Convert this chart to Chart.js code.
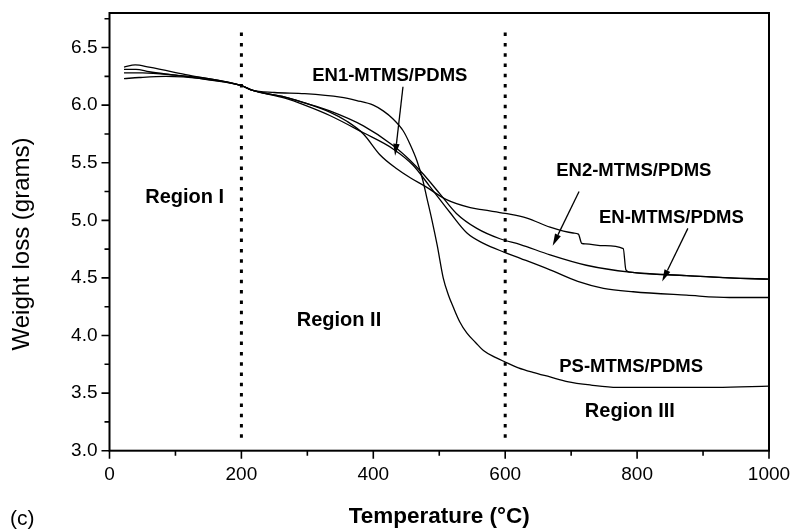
<!DOCTYPE html>
<html>
<head>
<meta charset="utf-8">
<script src="https://cdn.jsdelivr.net/npm/chart.js@4"></script>
<style>
  html, body { margin: 0; background: #fff; }
</style>
</head>
<body>
<canvas id="myChart" width="792" height="530"></canvas>
<script>
// temperatures (°C) and weights (g)
var psTemp = [22, 40, 60, 100, 150, 200, 216, 250, 296, 350, 375, 400, 415, 430, 445, 455, 466, 475, 481, 489, 497, 506, 514, 521, 531, 542, 555, 567, 585, 600, 620, 642, 668, 694, 730, 770, 850, 920, 1000];
var psWeight = [6.31, 6.31, 6.29, 6.26, 6.22, 6.17, 6.13, 6.11, 6.10, 6.07, 6.04, 6.00, 5.95, 5.88, 5.78, 5.67, 5.52, 5.35, 5.20, 5.00, 4.78, 4.50, 4.35, 4.25, 4.12, 4.02, 3.94, 3.87, 3.81, 3.77, 3.72, 3.68, 3.64, 3.60, 3.57, 3.55, 3.55, 3.55, 3.56];

var en2Temp = [22, 50, 100, 150, 200, 216, 266, 296, 334, 360, 385, 410, 435, 456, 480, 511, 547, 567, 600, 633, 668, 703, 711, 716, 722, 750, 779, 783, 789, 830, 875, 940, 1000];
var en2Weight = [6.28, 6.28, 6.26, 6.23, 6.17, 6.13, 6.07, 6.02, 5.94, 5.86, 5.75, 5.57, 5.45, 5.37, 5.29, 5.18, 5.11, 5.09, 5.06, 5.02, 4.94, 4.89, 4.88, 4.80, 4.795, 4.78, 4.755, 4.57, 4.55, 4.53, 4.52, 4.50, 4.49];

var enTemp = [22, 39, 60, 120, 200, 216, 266, 296, 334, 385, 430, 456, 476, 501, 526, 557, 592, 623, 668, 723, 789, 875, 940, 1000];
var enWeight = [6.33, 6.35, 6.33, 6.26, 6.17, 6.13, 6.07, 6.02, 5.95, 5.82, 5.65, 5.52, 5.40, 5.23, 5.06, 4.93, 4.84, 4.79, 4.70, 4.61, 4.55, 4.52, 4.50, 4.49];

var en1Temp = [22, 45, 85, 140, 200, 216, 266, 296, 334, 385, 430, 460, 485, 516, 542, 567, 600, 623, 668, 710, 749, 794, 875, 940, 1000];
var en1Weight = [6.23, 6.24, 6.25, 6.23, 6.17, 6.13, 6.06, 6.00, 5.91, 5.76, 5.62, 5.48, 5.30, 5.07, 4.89, 4.80, 4.72, 4.67, 4.57, 4.47, 4.41, 4.38, 4.35, 4.33, 4.33];

// region boundaries (dotted lines)
var regionBounds = [200, 600];
var regionTop = 6.63, regionBottom = 3.11;

// axis ranges
var xMin = 0, xMax = 1000, xMajor = 200, xMinor = 100;
var yMin = 3.0, yMax = 6.8, yMajor = 0.5, yMinor = 0.25;

// text labels and arrows, in data units
var labels = [
  { text: "EN1-MTMS/PDMS", x: 425, y: 6.25, size: 18.5 },
  { text: "EN2-MTMS/PDMS", x: 795, y: 5.43, size: 18.5 },
  { text: "EN-MTMS/PDMS", x: 852, y: 5.02, size: 18.5 },
  { text: "PS-MTMS/PDMS", x: 791, y: 3.73, size: 18.5 },
  { text: "Region I", x: 114, y: 5.20, size: 20 },
  { text: "Region II", x: 348, y: 4.13, size: 20 },
  { text: "Region III", x: 789, y: 3.34, size: 20 }
];
var arrows = [
  { x1: 445, y1: 6.16, x2: 433, y2: 5.56 },
  { x1: 712, y1: 5.25, x2: 672, y2: 4.78 },
  { x1: 877, y1: 4.93, x2: 838, y2: 4.47 }
];

function pts(xs, ys) {
  return xs.map(function (x, i) { return { x: x, y: ys[i] }; });
}

function curve(label, xs, ys) {
  return {
    label: label,
    data: pts(xs, ys),
    borderColor: "#000",
    borderWidth: 1.3,
    pointRadius: 0,
    cubicInterpolationMode: "monotone",
    fill: false
  };
}

var datasets = [
  curve("PS-MTMS/PDMS", psTemp, psWeight),
  curve("EN2-MTMS/PDMS", en2Temp, en2Weight),
  curve("EN-MTMS/PDMS", enTemp, enWeight),
  curve("EN1-MTMS/PDMS", en1Temp, en1Weight)
];
regionBounds.forEach(function (t) {
  datasets.push({
    label: "bound",
    data: [{ x: t, y: regionTop }, { x: t, y: regionBottom }],
    borderColor: "#000",
    borderWidth: 3,
    borderDash: [3.5, 6.8],
    pointRadius: 0,
    fill: false
  });
});

var FONT = '"Liberation Sans", Arial, Helvetica, sans-serif';

var decor = {
  id: "decor",
  afterDraw: function (chart) {
    var ctx = chart.ctx;
    var a = chart.chartArea;
    var xs = chart.scales.x, ys = chart.scales.y;
    ctx.save();
    ctx.strokeStyle = "#000";
    ctx.fillStyle = "#000";

    // frame
    ctx.lineWidth = 2;
    ctx.strokeRect(a.left, a.top, a.right - a.left, a.bottom - a.top);

    // tick marks, longer on the majors
    ctx.lineWidth = 1.6;
    ctx.beginPath();
    xs.ticks.forEach(function (t) {
      var px = xs.getPixelForValue(t.value);
      var major = Math.abs(t.value / xMajor - Math.round(t.value / xMajor)) < 1e-6;
      ctx.moveTo(px, a.bottom);
      ctx.lineTo(px, a.bottom + (major ? 8 : 5));
    });
    ys.ticks.forEach(function (t) {
      var py = ys.getPixelForValue(t.value);
      var major = Math.abs(t.value / yMajor - Math.round(t.value / yMajor)) < 1e-6;
      ctx.moveTo(a.left, py);
      ctx.lineTo(a.left - (major ? 8 : 5), py);
    });
    ctx.stroke();

    // y title
    ctx.save();
    ctx.translate(22.5, 244);
    ctx.rotate(-Math.PI / 2);
    ctx.font = "24px " + FONT;
    ctx.textAlign = "center";
    ctx.textBaseline = "middle";
    ctx.fillText("Weight loss (grams)", 0, 0);
    ctx.restore();

    // panel letter
    ctx.font = "21px " + FONT;
    ctx.textAlign = "left";
    ctx.textBaseline = "middle";
    ctx.fillText("(c)", 10, 519);

    // annotations
    ctx.textAlign = "center";
    labels.forEach(function (l) {
      ctx.font = "bold " + l.size + "px " + FONT;
      ctx.fillText(l.text, xs.getPixelForValue(l.x), ys.getPixelForValue(l.y));
    });

    // arrows
    ctx.lineWidth = 1.3;
    arrows.forEach(function (r) {
      var x1 = xs.getPixelForValue(r.x1), y1 = ys.getPixelForValue(r.y1);
      var x2 = xs.getPixelForValue(r.x2), y2 = ys.getPixelForValue(r.y2);
      var ang = Math.atan2(y2 - y1, x2 - x1);
      var len = 12, half = 3.2;
      var bx = x2 - len * Math.cos(ang), by = y2 - len * Math.sin(ang);
      ctx.beginPath();
      ctx.moveTo(x1, y1);
      ctx.lineTo(bx, by);
      ctx.stroke();
      ctx.beginPath();
      ctx.moveTo(x2, y2);
      ctx.lineTo(bx + half * Math.sin(ang), by - half * Math.cos(ang));
      ctx.lineTo(bx - half * Math.sin(ang), by + half * Math.cos(ang));
      ctx.closePath();
      ctx.fill();
    });
    ctx.restore();
  }
};

var ctx = document.getElementById("myChart").getContext("2d");
var myChart = new Chart(ctx, {
  type: "line",
  data: { datasets: datasets },
  options: {
    responsive: false,
    animation: false,
    events: [],
    layout: { padding: { top: 13, right: 23, left: 0, bottom: 0 } },
    plugins: {
      legend: { display: false },
      tooltip: { enabled: false }
    },
    scales: {
      x: {
        type: "linear",
        min: xMin,
        max: xMax,
        afterFit: function (s) {
          s.height = 79.3;
          s.paddingLeft = 0;
          s.paddingRight = 0;
        },
        grid: { display: false, drawTicks: false },
        border: { display: false },
        ticks: {
          stepSize: xMinor,
          autoSkip: false,
          maxRotation: 0,
          padding: 13,
          color: "#000",
          font: { family: FONT, size: 19 },
          callback: function (v) { return v % xMajor === 0 ? String(v) : ""; }
        },
        title: {
          display: true,
          text: "Temperature (°C)",
          color: "#000",
          font: { family: FONT, size: 22.5, weight: "bold" },
          padding: { top: 0, bottom: 0 }
        }
      },
      y: {
        type: "linear",
        min: yMin,
        max: yMax,
        afterFit: function (s) {
          s.width = 109.5;
          s.paddingTop = 0;
          s.paddingBottom = 0;
        },
        grid: { display: false, drawTicks: false },
        border: { display: false },
        ticks: {
          stepSize: yMinor,
          includeBounds: false,
          autoSkip: false,
          padding: 12,
          color: "#000",
          font: { family: FONT, size: 19 },
          callback: function (v) {
            return Math.abs(v / yMajor - Math.round(v / yMajor)) < 1e-6 ? v.toFixed(1) : "";
          }
        }
      }
    }
  },
  plugins: [decor]
});
</script>
</body>
</html>
